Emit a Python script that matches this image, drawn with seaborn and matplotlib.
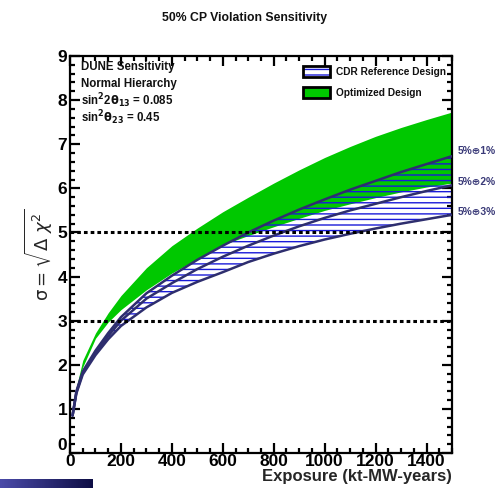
import numpy as np
import pandas as pd
import matplotlib as mpl
mpl.use("Agg")
import matplotlib.pyplot as plt
from matplotlib.patches import Rectangle
from matplotlib.ticker import MultipleLocator, FuncFormatter
import seaborn as sns

####################################################################
# values
exposure = [10, 25, 50, 100, 150, 200, 300, 400, 500, 600, 700, 800,
            900, 1000, 1100, 1200, 1300, 1400, 1500]

# Optimized design band
opt_hi = [0.9, 1.5, 2.1, 2.72, 3.18, 3.57, 4.2, 4.7, 5.1, 5.47, 5.8, 6.12,
          6.42, 6.7, 6.95, 7.18, 7.38, 7.56, 7.73]
opt_lo = [0.9, 1.42, 1.95, 2.6, 2.97, 3.25, 3.7, 4.08, 4.4, 4.72, 4.93, 5.13,
          5.32, 5.5, 5.65, 5.79, 5.92, 6.03, 6.12]

# CDR reference design, 5% (+) 1%, 2%, 3% systematics
cdr_1 = [0.85, 1.4, 1.85, 2.32, 2.72, 3.08, 3.62, 4.02, 4.38, 4.7, 5.0, 5.27,
         5.52, 5.75, 5.97, 6.17, 6.37, 6.55, 6.73]
cdr_2 = [0.85, 1.38, 1.82, 2.27, 2.65, 3.0, 3.5, 3.85, 4.17, 4.45, 4.7, 4.93,
         5.14, 5.33, 5.5, 5.65, 5.8, 5.94, 6.07]
cdr_3 = [0.85, 1.35, 1.78, 2.22, 2.58, 2.88, 3.3, 3.63, 3.88, 4.1, 4.33, 4.52,
         4.69, 4.84, 4.97, 5.09, 5.2, 5.3, 5.4]
sys_labels = ["5%\u22951%", "5%\u22952%", "5%\u22953%"]

sigma_lines = [3, 5]
####################################################################

sns.set_theme(style="ticks")
plt.rcParams["font.family"] = ["Liberation Sans", "DejaVu Sans"]
plt.rcParams["hatch.linewidth"] = 1.0

green = "#00c800"
navy = "#2e2e6e"
hatch_blue = "#1a1ad8"

cdr = pd.DataFrame({"exposure": exposure * 3,
                    "sigma": cdr_1 + cdr_2 + cdr_3,
                    "sys": np.repeat(sys_labels, len(exposure))})

fig = plt.figure(figsize=(4.98, 4.88), dpi=100)
ax = fig.add_axes([0.1406, 0.0717, 0.767, 0.8135])

ax.fill_between(exposure, opt_lo, opt_hi, color=green, lw=0, zorder=1)
ax.fill_between(exposure, cdr_3, cdr_1, facecolor="none", edgecolor=hatch_blue,
                hatch="---", lw=0, zorder=2)
sns.lineplot(data=cdr, x="exposure", y="sigma", units="sys", estimator=None,
             color=navy, lw=1.8, ax=ax, zorder=3)

for s in sigma_lines:
    ax.axhline(s, color="black", ls=(0, (1.2, 1.0)), lw=2.2, zorder=4)

ax.set_xlim(0, 1500)
ax.set_ylim(0, 9)
ax.xaxis.set_major_locator(MultipleLocator(200))
ax.xaxis.set_minor_locator(MultipleLocator(50))
ax.yaxis.set_major_locator(MultipleLocator(1))
ax.yaxis.set_minor_locator(MultipleLocator(0.2))
# y "0" is written by hand a bit higher, so it does not sit on the x "0"
ax.yaxis.set_major_formatter(FuncFormatter(lambda v, p: "" if v == 0 else f"{v:g}"))
ax.tick_params(which="both", direction="in", top=True, right=True, width=1.6,
               labelsize=12.5, color="black", labelcolor="black")
ax.tick_params(axis="x", pad=1)
ax.tick_params(axis="y", pad=2)
ax.tick_params(which="major", length=7)
ax.tick_params(which="minor", length=3.5)
for lab in ax.get_xticklabels() + ax.get_yticklabels():
    lab.set_fontweight("bold")
for sp in ax.spines.values():
    sp.set_linewidth(1.6)
    sp.set_color("black")
ax.text(-0.008, 0.02, "0", transform=ax.transAxes, ha="right", va="center",
        fontsize=12.5, fontweight="bold", color="black")

ax.set_xlabel("Exposure (kt-MW-years)", fontsize=12, fontweight="bold",
              loc="right", labelpad=0)
ax.set_ylabel(r"$\mathrm{\sigma} = \sqrt{\Delta\ \chi^{2}}$", fontsize=13,
              fontweight="normal", labelpad=2)

# top-left info text
info = ["DUNE Sensitivity", "Normal Hierarchy",
        r"sin$^{\mathbf{2}}$2$\mathbf{\theta}_{\mathbf{13}}$ = 0.085",
        r"sin$^{\mathbf{2}}\mathbf{\theta}_{\mathbf{23}}$ = 0.45"]
for i, t in enumerate(info):
    ax.text(0.029, 0.972 - i * 0.0425, t, transform=ax.transAxes, fontsize=8.3,
            fontweight="bold", va="center", ha="left", color="#111111")

# legend drawn by hand, ROOT style
ax.add_patch(Rectangle((0.610, 0.947), 0.071, 0.028, transform=ax.transAxes,
                       facecolor="white", edgecolor=hatch_blue, hatch="---", lw=0,
                       zorder=5, clip_on=False))
ax.add_patch(Rectangle((0.610, 0.947), 0.071, 0.028, transform=ax.transAxes,
                       facecolor="none", edgecolor="black", lw=2, zorder=6,
                       clip_on=False))
ax.add_patch(Rectangle((0.610, 0.894), 0.071, 0.028, transform=ax.transAxes,
                       facecolor=green, edgecolor="black", lw=2, zorder=6,
                       clip_on=False))
ax.text(0.696, 0.961, "CDR Reference Design", transform=ax.transAxes,
        fontsize=7.3, fontweight="bold", va="center", color="#111111")
ax.text(0.696, 0.908, "Optimized Design", transform=ax.transAxes,
        fontsize=7.3, fontweight="bold", va="center", color="#111111")

# systematics labels at the right end of the CDR curves
for lab, yv in zip(sys_labels, [cdr_1[-1], cdr_2[-1], cdr_3[-1]]):
    ax.annotate(lab, xy=(1500, yv), xytext=(4, 4 if yv > 6.5 else 2),
                textcoords="offset points", fontsize=7.4, fontweight="bold",
                color="#3a3a78", va="center", ha="left",
                family=["Liberation Sans", "DejaVu Sans"], annotation_clip=False)

fig.text(0.492, 0.963, "50% CP Violation Sensitivity", fontsize=8.8,
         fontweight="bold", ha="center", va="center", color="#111111")

# slide decoration strip in the lower-left corner
bar = fig.add_axes([0, 0, 93 / 498, 9 / 488])
bar.imshow(np.linspace(0, 1, 100)[None, :], aspect="auto",
           cmap=mpl.colors.LinearSegmentedColormap.from_list("b", ["#4a4aa8", "#0e0e45"]))
bar.axis("off")

fig.savefig("out.png", dpi=100)
